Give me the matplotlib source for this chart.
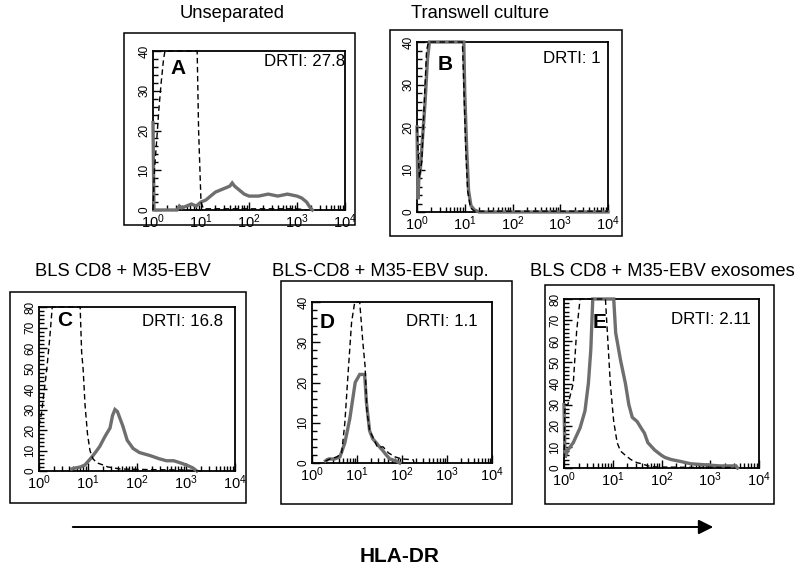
import numpy as np
import matplotlib
matplotlib.use("Agg")
import matplotlib.pyplot as plt
from matplotlib.patches import Rectangle, FancyArrowPatch
from matplotlib.ticker import MultipleLocator, LogLocator, NullFormatter

plt.rcParams['font.family'] = ['Liberation Sans', 'DejaVu Sans']
plt.rcParams['mathtext.default'] = 'regular'

# ---------------- data (x as log10 of fluorescence, y = cell counts) -------------
titles = ["Unseparated", "Transwell culture", "BLS CD8 + M35-EBV",
          "BLS-CD8 + M35-EBV sup.", "BLS CD8 + M35-EBV exosomes"]
letters = ["A", "B", "C", "D", "E"]
drti = ["DRTI: 27.8", "DRTI: 1", "DRTI: 16.8", "DRTI: 1.1", "DRTI: 2.11"]
ymax = [40, 40, 80, 40, 80]

A_iso_x = [0, 0.03, 0.08, 0.12, 0.17, 0.22, 0.25, 0.5, 0.85, 0.92, 0.95, 1.0, 1.05, 1.5, 2.0, 2.5, 3.0, 3.2]
A_iso_y = [0, 10, 18, 25, 32, 38, 40, 40, 40, 40, 20, 2, 0.3, 0.3, 0.3, 0.3, 0.3, 0]
A_pos_x = [0, 0.02, 0.5, 0.55, 0.6, 0.7, 0.8, 0.9, 1.0, 1.1, 1.2, 1.3, 1.4, 1.5, 1.6, 1.65, 1.7,
           1.75, 1.8, 1.9, 2.0, 2.2, 2.4, 2.6, 2.8, 3.0, 3.1, 3.2, 3.28, 3.32]
A_pos_y = [22, 0, 0, 1, 0.5, 1, 1.5, 1, 2, 2.5, 3.5, 4.5, 5, 5.5, 6, 6.8, 6,
           5.5, 5, 4, 3.5, 3.5, 4, 3.5, 4, 3.5, 3, 2, 0.5, 0]

B_iso_x = [0, 0.05, 0.1, 0.15, 0.2, 0.24, 0.6, 0.95, 0.98, 1.02, 1.06, 1.12, 1.2, 2.0, 3.0, 4.0]
B_iso_y = [20, 8, 12, 25, 38, 40, 40, 40, 30, 15, 5, 1, 0.2, 0.2, 0.2, 0.2]
B_pos_x = [0, 0.02, 0.04, 0.07, 0.12, 0.17, 0.22, 0.26, 0.6, 0.98, 1.0, 1.04, 1.08, 1.13, 1.2, 1.3, 4.0]
B_pos_y = [20, 3, 8, 10, 18, 26, 36, 40, 40, 40, 28, 15, 5, 1.5, 0.5, 0, 0]

C_iso_x = [0, 0.05, 0.1, 0.16, 0.22, 0.27, 0.55, 0.84, 0.87, 0.9, 0.94, 0.99, 1.04, 1.1, 1.18,
           1.3, 1.4, 1.65, 2.0, 2.5, 3.0, 3.3]
C_iso_y = [22, 28, 38, 50, 65, 80, 80, 80, 58, 50, 32, 18, 10, 6, 4, 3, 2, 1, 0.8, 0.6, 0.5, 0]
C_pos_x = [0.67, 0.75, 0.85, 0.94, 1.05, 1.15, 1.24, 1.35, 1.45, 1.5, 1.55, 1.6, 1.71, 1.8, 1.92,
           2.05, 2.27, 2.45, 2.6, 2.75, 2.88, 3.0, 3.14, 3.22]
C_pos_y = [1, 1.5, 2, 3, 6, 9, 12, 17, 21, 27, 30, 29, 22, 15, 11, 9, 7.5, 6, 5, 5, 4, 3, 1.5, 0]

D_iso_x = [0.3, 0.4, 0.55, 0.66, 0.73, 0.8, 0.88, 0.95, 1.06, 1.13, 1.18, 1.22, 1.28, 1.35, 1.45,
           1.58, 1.7, 1.85, 2.0, 2.25, 2.27]
D_iso_y = [0.5, 1, 1.5, 2.5, 10, 22, 35, 40, 40, 30, 24, 13, 8, 6.5, 4, 4, 2.5, 1.5, 1, 0.8, 0]
D_pos_x = [0.3, 0.37, 0.5, 0.62, 0.73, 0.84, 0.96, 1.06, 1.17, 1.21, 1.28, 1.35, 1.43, 1.5, 1.58,
           1.65, 1.73, 1.87, 1.95]
D_pos_y = [0.5, 1, 1, 1.5, 5, 11, 20, 22, 22, 15, 8, 6, 5, 4, 3, 2, 1, 0.5, 0]

E_iso_x = [0, 0.02, 0.08, 0.19, 0.26, 0.33, 0.6, 0.85, 0.9, 0.95, 1.02, 1.09, 1.16, 1.26, 1.37,
           1.5, 1.6, 1.72, 1.86, 2.2, 2.6, 3.0, 3.5]
E_iso_y = [0, 30, 30, 40, 65, 80, 80, 80, 60, 40, 22, 12, 8, 6, 4, 2.5, 2, 1, 0.5, 0.4, 0.3, 0.3, 0.2]
E_pos_x = [0, 0.02, 0.08, 0.19, 0.33, 0.43, 0.5, 0.55, 0.59, 0.8, 1.02, 1.06, 1.16, 1.26, 1.33,
           1.4, 1.5, 1.58, 1.65, 1.72, 1.86, 2.0, 2.07, 2.2, 2.41, 2.6, 2.9, 3.2, 3.53, 3.56]
E_pos_y = [30, 5, 8.5, 12, 19, 27, 40, 56, 80, 80, 80, 64, 51, 40, 30, 24, 22, 19, 16.5, 12,
           8.5, 6, 5, 4, 3, 2, 1.5, 1, 1, 0]

iso_x = [A_iso_x, B_iso_x, C_iso_x, D_iso_x, E_iso_x]
iso_y = [A_iso_y, B_iso_y, C_iso_y, D_iso_y, E_iso_y]
pos_x = [A_pos_x, B_pos_x, C_pos_x, D_pos_x, E_pos_x]
pos_y = [A_pos_y, B_pos_y, C_pos_y, D_pos_y, E_pos_y]

# ---------------- layout (pixel boxes in an 800x566 canvas) ----------------
W, H = 800, 566
inner = [(153, 345, 51, 210), (417, 608, 42, 212), (39, 235, 307, 471),
         (312, 492, 302, 463), (564, 759, 299, 468)]
outer = [(124, 355, 33, 225), (390, 622, 30, 236), (10, 246, 292, 503),
         (281, 512, 281, 504), (545, 774, 285, 504)]
title_pos = [(232, 13), (480, 13), (123, 272), (380, 272), (662, 272)]
letter_pos = [(178, 69), (445, 65), (65, 320), (327, 322), (600, 323)]
drti_pos = [(345, 62), (601, 58), (223, 322), (478, 322), (751, 320)]

fig = plt.figure(figsize=(8, 5.66), dpi=100)

def fx(px):
    return px / W

def fy(py):
    return 1 - py / H

for i in range(5):
    l, r, t, b = inner[i]
    ax = fig.add_axes([fx(l), fy(b), (r - l) / W, (b - t) / H])
    ax.plot(10 ** np.array(pos_x[i]), pos_y[i], color='#6e6e6e', lw=2.4, zorder=2.6,
            clip_on=False, solid_joinstyle='miter')
    ax.plot(10 ** np.array(iso_x[i]), iso_y[i], color='black', lw=1.0,
            ls=(0, (4, 2.5)), zorder=3, clip_on=False)
    ax.set_xscale('log')
    ax.set_xlim(1, 1e4)
    ax.set_ylim(0, ymax[i])
    ax.xaxis.set_major_locator(LogLocator(base=10, numticks=100))
    ax.xaxis.set_minor_locator(LogLocator(base=10, subs=np.arange(2, 10), numticks=100))
    ax.xaxis.set_minor_formatter(NullFormatter())
    ax.yaxis.set_major_locator(MultipleLocator(10))
    ax.yaxis.set_minor_locator(MultipleLocator(2))
    ax.tick_params(which='both', direction='in', width=1.0, color='black')
    ax.tick_params(which='major', length=6)
    ax.tick_params(which='minor', length=3.5)
    ax.tick_params(axis='x', labelsize=10.5, pad=2)
    ax.tick_params(axis='y', labelsize=8.5, pad=2)
    for lab in ax.get_yticklabels():
        lab.set_rotation(90)
        lab.set_va('center')
    for s in ax.spines.values():
        s.set_linewidth(1.3)
    # outer frame
    ol, orr, ot, ob = outer[i]
    fig.patches.append(Rectangle((fx(ol), fy(ob)), (orr - ol) / W, (ob - ot) / H,
                                 transform=fig.transFigure, fill=False,
                                 edgecolor='black', lw=1.1))
    fig.text(fx(title_pos[i][0]), fy(title_pos[i][1]), titles[i], ha='center',
             va='center', fontsize=13.2)
    fig.text(fx(letter_pos[i][0]), fy(letter_pos[i][1]), letters[i], ha='center',
             va='center', fontsize=15, fontweight='bold')
    fig.text(fx(drti_pos[i][0]), fy(drti_pos[i][1]), drti[i], ha='right',
             va='center', fontsize=12.2)

arrow = FancyArrowPatch((fx(70), fy(527)), (fx(716), fy(527)), transform=fig.transFigure,
                        arrowstyle='-|>', mutation_scale=22, lw=1.4, color='black')
fig.patches.append(arrow)
fig.text(0.5, fy(556), "HLA-DR", ha='center', va='center', fontsize=15, fontweight='bold')

fig.savefig("out.png", dpi=100)
